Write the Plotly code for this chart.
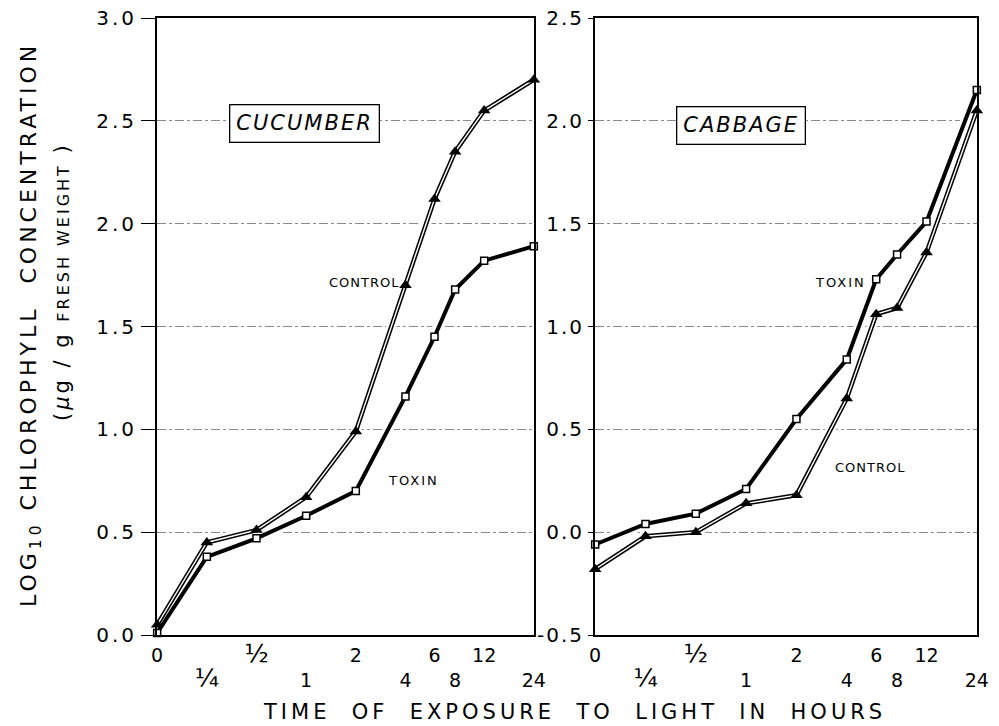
import math
import plotly.graph_objects as go

# ---------------- data ----------------
HOURS = [0, 0.25, 0.5, 1, 2, 4, 6, 8, 12, 24]
HOUR_LABELS = ["0", "¼", "½", "1", "2", "4", "6", "8", "12", "24"]

CUC_CONTROL = [0.05, 0.45, 0.51, 0.67, 0.99, 1.70, 2.12, 2.35, 2.55, 2.70]
CUC_TOXIN = [0.01, 0.38, 0.47, 0.58, 0.70, 1.16, 1.45, 1.68, 1.82, 1.89]

CAB_CONTROL = [-0.18, -0.02, 0.00, 0.14, 0.18, 0.65, 1.06, 1.09, 1.36, 2.05]
CAB_TOXIN = [-0.06, 0.04, 0.09, 0.21, 0.55, 0.84, 1.23, 1.35, 1.51, 2.15]

LEFT_Y_TICKS = [0.0, 0.5, 1.0, 1.5, 2.0, 2.5, 3.0]
RIGHT_Y_TICKS = [-0.5, 0.0, 0.5, 1.0, 1.5, 2.0, 2.5]

# time 0 is drawn one octave below 1/4 h on the logarithmic time axis
ZERO_POS = 0.125
XPOS = [h if h > 0 else ZERO_POS for h in HOURS]
XRANGE = [math.log10(min(XPOS)) - 0.001, math.log10(max(XPOS)) + 0.001]

W, H = 999, 726
FONT = "DejaVu Sans"

fig = go.Figure()


def add_panel(xa, ya, control, toxin):
    for ys in (control, toxin):
        fig.add_trace(go.Scatter(x=XPOS, y=ys, xaxis=xa, yaxis=ya, mode="lines",
                                 line=dict(color="white", width=10),
                                 hoverinfo="skip", showlegend=False, cliponaxis=False))
    # control: double (outlined) line with filled triangles
    fig.add_trace(go.Scatter(x=XPOS, y=control, xaxis=xa, yaxis=ya, mode="lines",
                             line=dict(color="black", width=4.5),
                             showlegend=False, cliponaxis=False))
    fig.add_trace(go.Scatter(x=XPOS, y=control, xaxis=xa, yaxis=ya, mode="lines",
                             line=dict(color="white", width=1.4),
                             showlegend=False, cliponaxis=False))
    fig.add_trace(go.Scatter(x=XPOS, y=control, xaxis=xa, yaxis=ya, mode="markers",
                             marker=dict(symbol="triangle-up", size=11, color="black"),
                             name="Control", showlegend=False, cliponaxis=False))
    # toxin: heavy line with open rectangles
    fig.add_trace(go.Scatter(x=XPOS, y=toxin, xaxis=xa, yaxis=ya, mode="lines+markers",
                             line=dict(color="black", width=4),
                             marker=dict(symbol="square", size=7, color="white",
                                         line=dict(color="black", width=1.5)),
                             name="Toxin", showlegend=False, cliponaxis=False))


add_panel("x", "y", CUC_CONTROL, CUC_TOXIN)
add_panel("x2", "y2", CAB_CONTROL, CAB_TOXIN)


def tick_label(lab):
    if lab in ("¼", "½"):
        return f"<span style='font-size:25px'>{lab}</span>"
    return lab


xticktext = [tick_label(lab) if i % 2 == 0 else "<br>" + tick_label(lab)
             for i, lab in enumerate(HOUR_LABELS)]


def spaced(s, px=2):
    return f"<span style='letter-spacing:{px}px'>{s}</span>"


def fmt(v):
    return f"{v:.1f}"


xcommon = dict(type="log", tickvals=XPOS, ticktext=xticktext, ticks="",
               tickfont=dict(family=FONT, size=19, color="black"),
               showline=True, linecolor="black", linewidth=2, mirror=True,
               showgrid=False, zeroline=False, ticklabelstandoff=2)
ycommon = dict(showline=True, linecolor="black", linewidth=2, mirror=True,
               showgrid=True, gridcolor="#8a8a8a", gridwidth=1, griddash="dashdot",
               zeroline=False, ticks="outside", tickcolor="black", tickwidth=1,
               tickfont=dict(family=FONT, size=20, color="black"))

L0, L1 = 157 / W, 534 / W
R0, R1 = 595 / W, 977 / W
B, T = 1 - 635 / H, 1 - 18 / H

fig.update_layout(
    width=W, height=H, margin=dict(l=0, r=0, t=0, b=0, autoexpand=False),
    paper_bgcolor="white", plot_bgcolor="white",
    xaxis=dict(domain=[L0, L1], range=XRANGE, **xcommon),
    xaxis2=dict(domain=[R0, R1], range=XRANGE, anchor="y2", **xcommon),
    yaxis=dict(domain=[B, T], range=[0, 3.0], tickvals=LEFT_Y_TICKS,
               ticktext=[spaced(fmt(v), 3) for v in LEFT_Y_TICKS], ticklen=14, **ycommon),
    yaxis2=dict(domain=[B, T], range=[-0.5, 2.5], anchor="x2", tickvals=RIGHT_Y_TICKS,
                ticktext=[spaced(fmt(v), 2) for v in RIGHT_Y_TICKS], ticklen=5, **ycommon),
)


def ann(text, px, py, size=13, **kw):
    fig.add_annotation(text=text, x=px / W, y=1 - py / H, xref="paper", yref="paper",
                       showarrow=False, font=dict(family=FONT, size=size, color="black"),
                       xanchor="center", yanchor="middle", **kw)


box = dict(bordercolor="black", borderwidth=1.3, borderpad=6, bgcolor="white")
ann("<i>" + spaced("CUCUMBER", 2) + "</i>", 304, 123, size=21, **box)
ann("<i>" + spaced("CABBAGE", 2) + "</i>", 741, 126, size=21, **box)

ann(spaced("CONTROL", 1), 364, 282)
ann(spaced("TOXIN", 2), 413, 480)
ann(spaced("TOXIN", 2), 840, 282)
ann(spaced("CONTROL", 1), 870, 467)

ann(spaced("TIME  OF  EXPOSURE  TO  LIGHT  IN  HOURS", 4), 574, 712, size=21)

ann(spaced("LOG<sub>10</sub> CHLOROPHYLL  CONCENTRATION", 4), 30, 325, size=22, textangle=-90)
ann(spaced("(<i>μ</i>g / g <span style='font-size:16px'>FRESH WEIGHT</span> )", 3),
    62, 282, size=21, textangle=-90)

fig.write_html("out.html", config={"displayModeBar": False},
               post_script="document.body.style.margin='0';")
